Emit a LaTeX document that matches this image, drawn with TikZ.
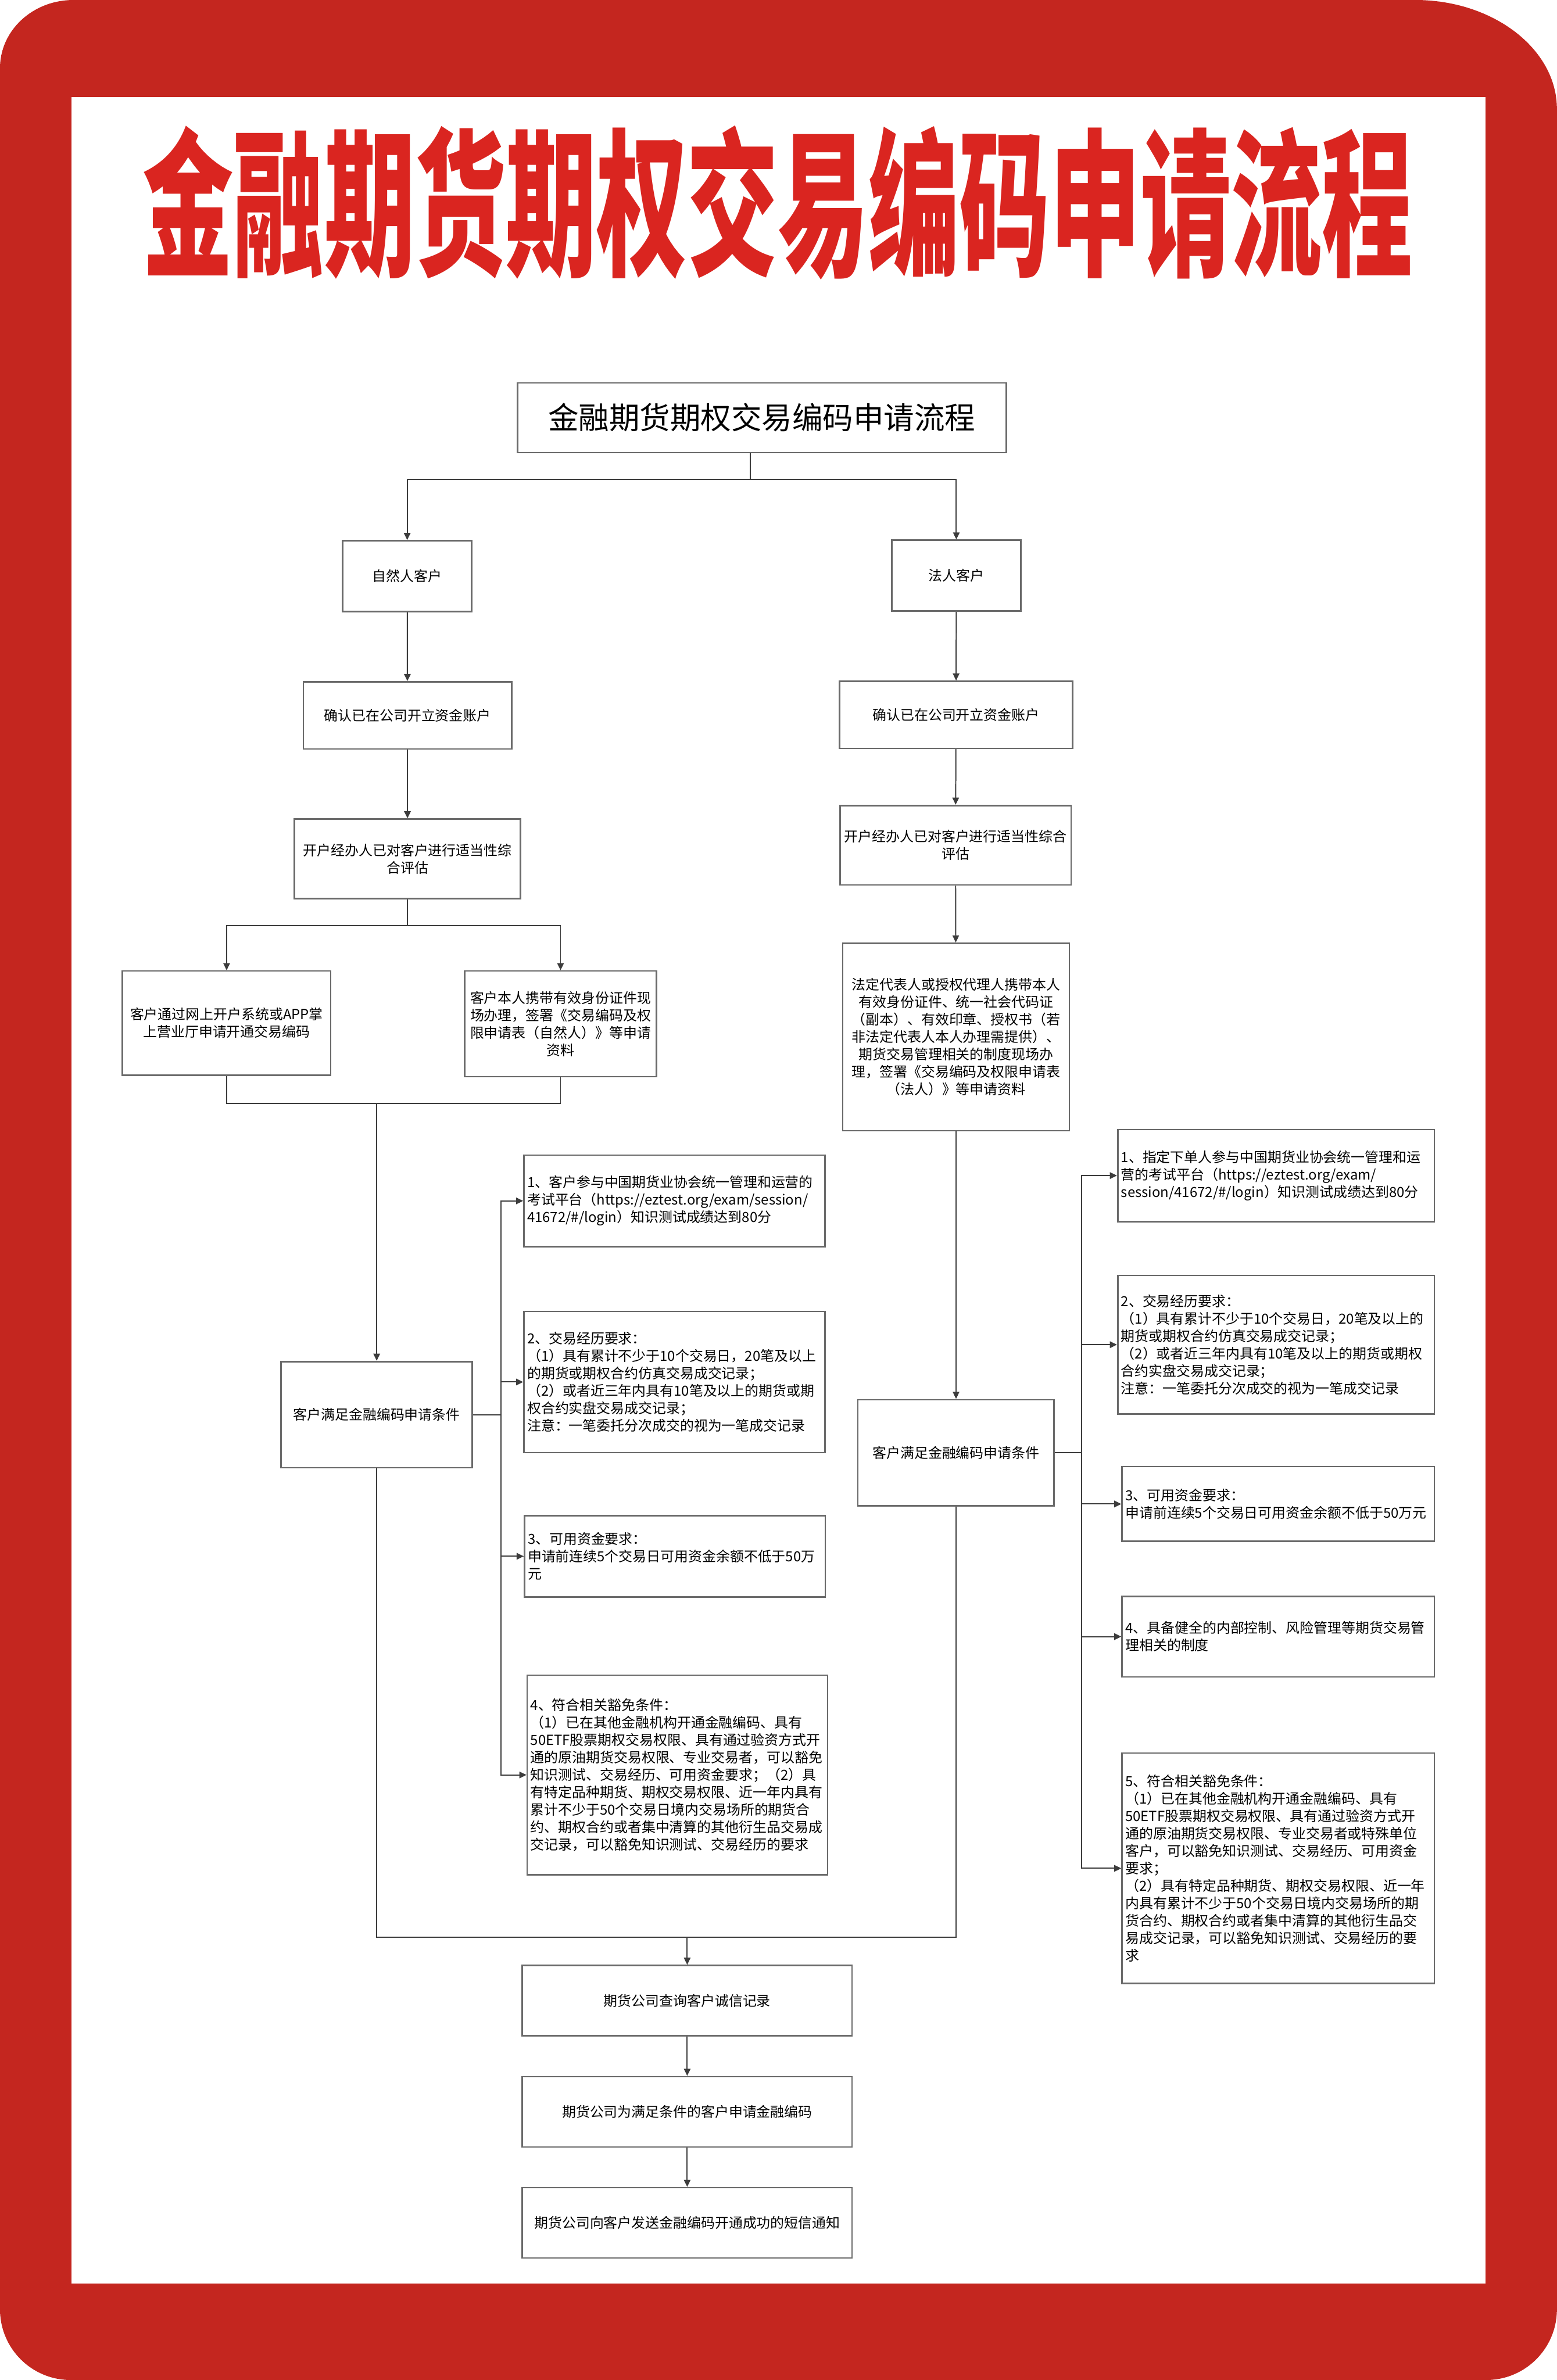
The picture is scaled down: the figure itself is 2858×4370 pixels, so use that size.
\documentclass[tikz,border=0pt]{standalone}
\usepackage{fontspec}
\usepackage{graphicx}
\usetikzlibrary{arrows.meta,positioning}
\newfontfamily\cjkfont{Noto Sans CJK SC}
\definecolor{framered}{HTML}{C4261F}
\definecolor{titlered}{HTML}{DA2520}
\definecolor{edge}{HTML}{3C3C3C}
\definecolor{boxline}{HTML}{6A6A6A}

\begin{document}
\begin{tikzpicture}[
  x=0.01cm, y=-0.01cm,
  node distance=0.72cm,
  flowbox/.style={
    draw=boxline,
    line width=0.8pt,
    fill=white,
    align=center,
    inner sep=0.06cm,
    font=\cjkfont\fontsize{0.255cm}{0.32cm}\selectfont
  },
  reqbox/.style={flowbox, align=left, text width=#1},
  wire/.style={draw=edge, line width=0.6pt},
  arrowline/.style={wire, -{Triangle[length=0.13cm,width=0.12cm]}}
]

\fill[white] (0,0) rectangle (2858,4370);
\useasboundingbox (0,0) rectangle (2858,4370);
\fill[framered] (0,125) .. controls (0,56) and (60,0) .. (135,0) -- (2598,0)
  .. controls (2741,0) and (2858,90) .. (2858,200) -- (2858,4240)
  .. controls (2858,4312) and (2800,4370) .. (2728,4370) -- (130,4370)
  .. controls (58,4370) and (0,4312) .. (0,4240) -- cycle;
\fill[white] (131,178) rectangle (2727,4193);

\node[text=titlered, inner sep=0pt] (banner) at (1428,372)
  {\resizebox*{23.3cm}{2.83cm}{\cjkfont\bfseries 金融期货期权交易编码申请流程}};

\node[flowbox, minimum width=8.97cm, minimum height=1.28cm,
  font=\cjkfont\fontsize{0.56cm}{0.7cm}\selectfont] (title) at (1398.5,767) {金融期货期权交易编码申请流程};

% natural person
\node[flowbox, minimum width=2.37cm, minimum height=1.30cm] (np) at (747.5,1058) {自然人客户};
\node[flowbox, minimum width=3.82cm, minimum height=1.23cm] (nacc) at (748,1313.5) {确认已在公司开立资金账户};
\node[flowbox, minimum width=4.15cm, minimum height=1.46cm] (neval) at (748,1577) {开户经办人已对客户进行适当性综\\合评估};
\node[flowbox, minimum width=3.82cm, minimum height=1.91cm] (online) at (416,1878.5) {客户通过网上开户系统或APP掌\\上营业厅申请开通交易编码};
\node[flowbox, minimum width=3.52cm, minimum height=1.94cm] (onsite) at (1029,1880) {客户本人携带有效身份证件现\\场办理，签署《交易编码及权\\限申请表（自然人）》等申请\\资料};
\node[flowbox, minimum width=3.51cm, minimum height=1.95cm] (ncond) at (691.5,2597.5) {客户满足金融编码申请条件};

\node[reqbox=5.40cm, minimum height=1.68cm] (nreq1) at (1238,2205) {1、客户参与中国期货业协会统一管理和运营的\\考试平台（https://eztest.org/exam/session/\\41672/\#/login）知识测试成绩达到80分};
\node[reqbox=5.40cm, minimum height=2.59cm] (nreq2) at (1238,2537.5) {2、交易经历要求：\\（1）具有累计不少于10个交易日，20笔及以上\\的期货或期权合约仿真交易成交记录；\\（2）或者近三年内具有10笔及以上的期货或期\\权合约实盘交易成交记录；\\注意：一笔委托分次成交的视为一笔成交记录};
\node[reqbox=5.40cm, minimum height=1.49cm] (nreq3) at (1239,2857.5) {3、可用资金要求：\\申请前连续5个交易日可用资金余额不低于50万\\元};
\node[reqbox=5.39cm, minimum height=3.66cm] (nreq4) at (1243.5,3259) {4、符合相关豁免条件：\\（1）已在其他金融机构开通金融编码、具有\\50ETF股票期权交易权限、具有通过验资方式开\\通的原油期货交易权限、专业交易者，可以豁免\\知识测试、交易经历、可用资金要求；（2）具\\有特定品种期货、期权交易权限、近一年内具有\\累计不少于50个交易日境内交易场所的期货合\\约、期权合约或者集中清算的其他衍生品交易成\\交记录，可以豁免知识测试、交易经历的要求};

% legal person
\node[flowbox, minimum width=2.37cm, minimum height=1.30cm] (lp) at (1755.5,1057) {法人客户};
\node[flowbox, minimum width=4.28cm, minimum height=1.23cm] (lacc) at (1755,1312.5) {确认已在公司开立资金账户};
\node[flowbox, minimum width=4.24cm, minimum height=1.46cm] (leval) at (1754,1552) {开户经办人已对客户进行适当性综合\\评估};
\node[flowbox, minimum width=4.16cm, minimum height=3.44cm] (ldoc) at (1755,1904) {法定代表人或授权代理人携带本人\\有效身份证件、统一社会代码证\\（副本）、有效印章、授权书（若\\非法定代表人本人办理需提供）、\\期货交易管理相关的制度现场办\\理，签署《交易编码及权限申请表\\（法人）》等申请资料};
\node[flowbox, minimum width=3.60cm, minimum height=1.95cm] (lcond) at (1755,2667.5) {客户满足金融编码申请条件};

\node[reqbox=5.69cm, minimum height=1.69cm] (lreq1) at (2342.5,2158.5) {1、指定下单人参与中国期货业协会统一管理和运\\营的考试平台（https://eztest.org/exam/\\session/41672/\#/login）知识测试成绩达到80分};
\node[reqbox=5.69cm, minimum height=2.54cm] (lreq2) at (2342.5,2469) {2、交易经历要求：\\（1）具有累计不少于10个交易日，20笔及以上的\\期货或期权合约仿真交易成交记录；\\（2）或者近三年内具有10笔及以上的期货或期权\\合约实盘交易成交记录；\\注意：一笔委托分次成交的视为一笔成交记录};
\node[reqbox=5.61cm, minimum height=1.37cm] (lreq3) at (2346.5,2761.5) {3、可用资金要求：\\申请前连续5个交易日可用资金余额不低于50万元};
\node[reqbox=5.61cm, minimum height=1.48cm] (lreq4) at (2346.5,3005) {4、具备健全的内部控制、风险管理等期货交易管\\理相关的制度};
\node[reqbox=5.61cm, minimum height=4.23cm] (lreq5) at (2346.5,3430.5) {5、符合相关豁免条件：\\（1）已在其他金融机构开通金融编码、具有\\50ETF股票期权交易权限、具有通过验资方式开\\通的原油期货交易权限、专业交易者或特殊单位\\客户，可以豁免知识测试、交易经历、可用资金\\要求；\\（2）具有特定品种期货、期权交易权限、近一年\\内具有累计不少于50个交易日境内交易场所的期\\货合约、期权合约或者集中清算的其他衍生品交\\易成交记录，可以豁免知识测试、交易经历的要\\求};

% common steps
\node[flowbox, minimum width=6.05cm, minimum height=1.29cm] (check) at (1261.5,3673.5) {期货公司查询客户诚信记录};
\node[flowbox, minimum width=6.05cm, minimum height=1.29cm, below=of check] (apply) {期货公司为满足条件的客户申请金融编码};
\node[flowbox, minimum width=6.05cm, minimum height=1.29cm, below=of apply] (notify) {期货公司向客户发送金融编码开通成功的短信通知};

\coordinate (split) at (1377,880);
\draw[wire] (title.south -| split) -- (split);
\draw[arrowline] (split) -| (np);
\draw[arrowline] (split) -| (lp);

\draw[arrowline] (np) -- (nacc);
\draw[arrowline] (nacc) -- (neval);
\coordinate (nsplit) at (748,1700);
\draw[wire] (neval) -- (nsplit);
\draw[arrowline] (nsplit) -| (online);
\draw[arrowline] (nsplit) -| (onsite);
\coordinate (njoin) at (691.5,2026);
\draw[wire] (online.south) |- (onsite.south |- njoin) -- (onsite.south);
\draw[arrowline] (njoin) -- (ncond);
\coordinate (ntr) at (920,2597.5);
\foreach \req in {nreq1,nreq2,nreq3,nreq4}
  \draw[arrowline] (ncond.east) -- (ntr) |- (\req.west);

\draw[arrowline] (lp) -- (lacc);
\draw[arrowline] (lacc) -- (leval);
\draw[arrowline] (leval) -- (ldoc);
\draw[arrowline] (ldoc) -- (lcond);
\coordinate (ltr) at (1985,2667.5);
\foreach \req in {lreq1,lreq2,lreq3,lreq4,lreq5}
  \draw[arrowline] (lcond.east) -- (ltr) |- (\req.west);

\coordinate (merge) at (1261.5,3557);
\draw[wire] (ncond.south) |- (lcond.south |- merge) -- (lcond.south);
\draw[arrowline] (merge) -- (check);
\draw[arrowline] (check) -- (apply);
\draw[arrowline] (apply) -- (notify);

\end{tikzpicture}
\end{document}
